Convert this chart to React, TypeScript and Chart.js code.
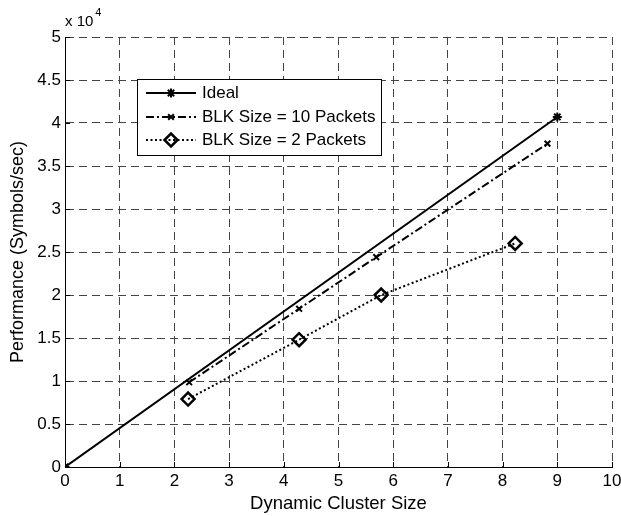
import React, { useEffect, useRef } from "react";
import { Chart, registerables } from "chart.js";

Chart.register(...registerables);

const seriesNames = ["Ideal", "BLK Size = 10 Packets", "BLK Size = 2 Packets"];
const idealX = [0, 9];
const idealY = [0, 40700];
const blk10X = [2.27, 4.28, 5.69, 8.82];
const blk10Y = [9850, 18400, 24400, 37600];
const blk2X = [2.25, 4.28, 5.78, 8.23];
const blk2Y = [7900, 14800, 20000, 26000];
const xTicks = [0, 1, 2, 3, 4, 5, 6, 7, 8, 9, 10];
const yTicks = [0, 5000, 10000, 15000, 20000, 25000, 30000, 35000, 40000, 45000, 50000];
const xTitle = "Dynamic Cluster Size";
const yTitle = "Performance (Symbols/sec)";
const exponentBase = "x 10";
const exponent = "4";

const FONT = "'Liberation Sans', Arial, Helvetica, sans-serif";
const GRID_DASH = [8, 5];

const pts = (xs: number[], ys: number[]) => xs.map((x, i) => ({ x, y: ys[i] }));

function drawMarker(ctx: CanvasRenderingContext2D, style: string, r: number, x: number, y: number, fill: string) {
  ctx.beginPath();
  if (style === "rectRot") {
    ctx.moveTo(x - r, y);
    ctx.lineTo(x, y - r);
    ctx.lineTo(x + r, y);
    ctx.lineTo(x, y + r);
    ctx.closePath();
    if (fill && fill !== "transparent") ctx.fill();
    ctx.stroke();
  } else if (style === "crossRot") {
    const d = r * Math.SQRT1_2;
    ctx.moveTo(x - d, y - d);
    ctx.lineTo(x + d, y + d);
    ctx.moveTo(x + d, y - d);
    ctx.lineTo(x - d, y + d);
    ctx.stroke();
  } else if (style === "star") {
    const d = r * Math.SQRT1_2;
    ctx.moveTo(x - r, y);
    ctx.lineTo(x + r, y);
    ctx.moveTo(x, y - r);
    ctx.lineTo(x, y + r);
    ctx.moveTo(x - d, y - d);
    ctx.lineTo(x + d, y + d);
    ctx.moveTo(x + d, y - d);
    ctx.lineTo(x - d, y + d);
    ctx.stroke();
  }
}

const overlayPlugin = {
  id: "overlay",
  afterDraw(chart: any) {
    const ctx = chart.ctx;
    const { left, bottom } = chart.chartArea;
    const xs = chart.scales.x;
    const ys = chart.scales.y;
    ctx.save();
    // inward ticks
    ctx.strokeStyle = "#000";
    ctx.lineWidth = 1;
    ctx.setLineDash([]);
    ctx.beginPath();
    yTicks.forEach((v) => {
      const y = Math.round(ys.getPixelForValue(v)) + 0.5;
      ctx.moveTo(left, y);
      ctx.lineTo(left + 5, y);
    });
    xTicks.forEach((v) => {
      const x = Math.round(xs.getPixelForValue(v)) + 0.5;
      ctx.moveTo(x, bottom);
      ctx.lineTo(x, bottom - 5);
    });
    ctx.stroke();

    // exponent label
    ctx.fillStyle = "#000";
    ctx.textBaseline = "alphabetic";
    ctx.textAlign = "left";
    ctx.font = `15px ${FONT}`;
    ctx.fillText(exponentBase, left, 26);
    const w = ctx.measureText(exponentBase).width;
    ctx.font = `11px ${FONT}`;
    ctx.fillText(exponent, left + w + 2, 16);

    // legend
    const bx = 137.5, by = 79.5, bw = 244, bh = 76;
    ctx.fillStyle = "#fff";
    ctx.fillRect(bx, by, bw, bh);
    ctx.strokeStyle = "#000";
    ctx.lineWidth = 1;
    ctx.strokeRect(bx, by, bw, bh);
    const rows = [93, 117, 140];
    chart.data.datasets.forEach((ds: any, i: number) => {
      const y = rows[i];
      ctx.save();
      ctx.strokeStyle = ds.borderColor;
      ctx.lineWidth = ds.borderWidth;
      ctx.setLineDash(ds.borderDash || []);
      ctx.beginPath();
      ctx.moveTo(146, y);
      ctx.lineTo(196, y);
      ctx.stroke();
      ctx.setLineDash([]);
      ctx.lineWidth = ds.pointBorderWidth;
      ctx.strokeStyle = ds.pointBorderColor;
      ctx.fillStyle = ds.pointBackgroundColor;
      drawMarker(ctx, ds.pointStyle, ds.pointRadius, 171, y, ds.pointBackgroundColor);
      ctx.restore();
      ctx.fillStyle = "#000";
      ctx.font = `17px ${FONT}`;
      ctx.textBaseline = "middle";
      ctx.textAlign = "left";
      ctx.fillText(ds.label, 202, y);
    });
    ctx.restore();
  },
};

export default function App() {
  const ref = useRef<HTMLCanvasElement | null>(null);
  useEffect(() => {
    if (!ref.current) return;
    const chart = new Chart(ref.current, {
      type: "line",
      data: {
        datasets: [
          {
            label: seriesNames[0],
            data: pts(idealX, idealY),
            borderColor: "#000",
            borderWidth: 2,
            pointStyle: "star",
            pointRadius: 4.5,
            pointBorderWidth: 2,
            pointBorderColor: "#000",
            pointBackgroundColor: "#000",
          },
          {
            label: seriesNames[1],
            data: pts(blk10X, blk10Y),
            borderColor: "#000",
            borderWidth: 2,
            borderDash: [8, 3, 2, 3],
            pointStyle: "crossRot",
            pointRadius: 4,
            pointBorderWidth: 2,
            pointBorderColor: "#000",
            pointBackgroundColor: "#000",
          },
          {
            label: seriesNames[2],
            data: pts(blk2X, blk2Y),
            borderColor: "#000",
            borderWidth: 2,
            borderDash: [2, 2.5],
            pointStyle: "rectRot",
            pointRadius: 6.5,
            pointBorderWidth: 2.5,
            pointBorderColor: "#000",
            pointBackgroundColor: "transparent",
          },
        ] as any,
      },
      options: {
        animation: false,
        responsive: false,
        maintainAspectRatio: false,
        events: [],
        layout: { padding: { top: 37, right: 9, left: 0, bottom: 0 } },
        plugins: { legend: { display: false }, tooltip: { enabled: false } },
        elements: { line: { tension: 0 } },
        scales: {
          x: {
            type: "linear",
            min: 0,
            max: 10,
            afterBuildTicks: (s: any) => {
              s.ticks = xTicks.map((v) => ({ value: v }));
            },
            afterFit: (s: any) => {
              s.height = 49;
              s.paddingRight = 0;
              s.paddingLeft = 0;
            },
            grid: { color: "#444", lineWidth: 1, drawTicks: false } as any,
            border: { display: true, color: "#000", width: 1, dash: GRID_DASH } as any,
            ticks: {
              color: "#000",
              font: { family: FONT, size: 17 },
              padding: 4,
              maxRotation: 0,
              autoSkip: false,
            },
            title: {
              display: true,
              text: xTitle,
              color: "#000",
              font: { family: FONT, size: 18.5 },
              padding: { top: 0, bottom: 1 },
            },
          },
          y: {
            type: "linear",
            min: 0,
            max: 50000,
            afterBuildTicks: (s: any) => {
              s.ticks = yTicks.map((v) => ({ value: v }));
            },
            afterFit: (s: any) => {
              s.width = 65;
              s.paddingTop = 0;
              s.paddingBottom = 0;
            },
            grid: { color: "#444", lineWidth: 1, drawTicks: false } as any,
            border: { display: true, color: "#000", width: 1, dash: GRID_DASH } as any,
            ticks: {
              color: "#000",
              font: { family: FONT, size: 17 },
              padding: 4,
              autoSkip: false,
              callback: (v: any) => String(Number(v) / 10000),
            },
            title: {
              display: true,
              text: yTitle,
              color: "#000",
              font: { family: FONT, size: 18 },
              padding: { top: 7, bottom: 0 },
            },
          },
        },
      } as any,
      plugins: [overlayPlugin],
    });
    return () => chart.destroy();
  }, []);
  return (
    <div style={{ position: "fixed", left: 0, top: 0, width: 621, height: 516, background: "#fff" }}>
      <canvas ref={ref} width={621} height={516} style={{ width: 621, height: 516, display: "block" }} />
    </div>
  );
}
